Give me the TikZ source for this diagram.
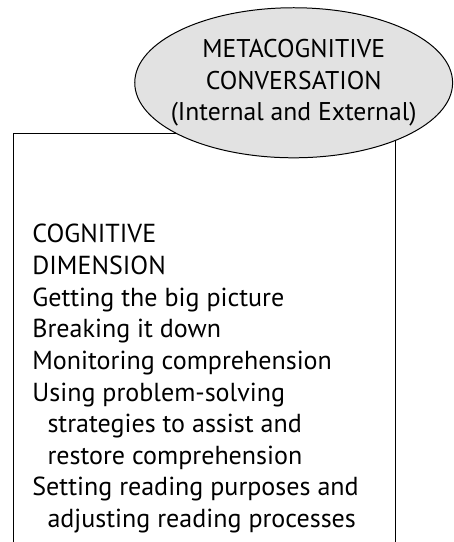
\documentclass[tikz,border=0pt]{standalone}
\usepackage{fontspec}
\setmainfont{PT Sans}
\usetikzlibrary{shapes.geometric, positioning}
\definecolor{grisClar}{RGB}{226,226,226}
\tikzstyle{caixaOberta} = [rectangle, draw=black, line width=0.75pt, minimum width=10.11cm, minimum height=11.5cm, inner sep=0]
\tikzstyle{elipseConversa} = [ellipse, draw=black, line width=0.75pt, fill=grisClar, minimum width=8.41cm, minimum height=3.97cm, inner xsep=-1.5cm, inner ysep=0, align=center, font=\fontsize{19.3}{23.6}\selectfont]
\tikzstyle{textDimensio} = [align=left, anchor=north west, inner sep=0, font=\fontsize{19.6}{23.8}\selectfont]
\newcommand{\sagnat}{\hspace*{0.4cm}}

\begin{document}
\begin{tikzpicture}

	% Marges del dibuix
	\useasboundingbox (0,0) rectangle (11.99,14.34);
	\clip (0,0) rectangle (11.99,14.34);

	% Definicio de nodes
	\node (caixa) [caixaOberta, anchor=north west] at (0.344,10.82) {};
	\node (dimensio) [textDimensio] at (0.85,8.41) {COGNITIVE\\
		DIMENSION\\
		Getting the big picture\\
		Breaking it down\\
		Monitoring comprehension\\
		Using problem-solving\\
		\sagnat strategies to assist and\\
		\sagnat restore comprehension\\
		Setting reading purposes and\\
		\sagnat adjusting reading processes};

	\node (conversa) [elipseConversa] at (7.77,12.15) {METACOGNITIVE\\CONVERSATION\\(Internal and External)};

\end{tikzpicture}
\end{document}
